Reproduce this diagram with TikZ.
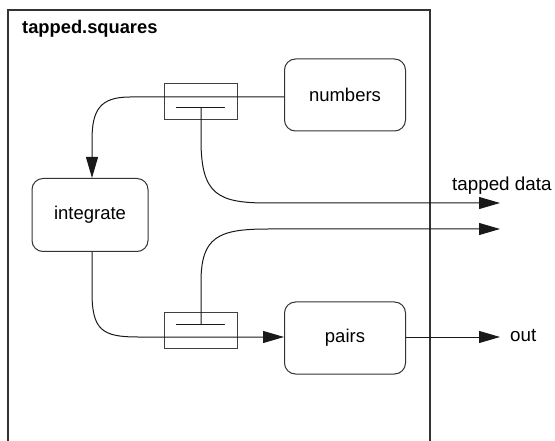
\documentclass[tikz,border=0pt]{standalone}
\usepackage{fontspec}
\setmainfont{Liberation Sans}
\usetikzlibrary{arrows.meta}
\begin{document}
\begin{tikzpicture}[x=1pt,y=-1pt,
  proc/.style={draw=black!80, line width=1pt, rounded corners=11pt, minimum width=121pt, minimum height=72pt, inner sep=0pt, font=\fontsize{18.5}{21}\selectfont},
  tapbox/.style={draw=black!75, line width=1pt, minimum width=73pt, minimum height=36pt, inner sep=0pt},
  wire/.style={draw=black!90, line width=1pt},
  flow/.style={wire, -{Triangle[length=21pt,width=12pt]}},
  lbl/.style={font=\fontsize{18.8}{21}\selectfont, inner sep=0pt}]
\useasboundingbox (0,0) rectangle (555,441);
% enclosing process frame, open at the bottom
\draw[black!80, line width=1.2pt] (8,441) -- (8,10) -- (430,10) -- (430,441);
\node[anchor=base west, font=\bfseries\fontsize{18.3}{21}\selectfont, inner sep=0pt] (title) at (22,34) {tapped.squares};

% processes
\node[proc] (numbers) at (345,95) {numbers};
\node[proc, minimum width=116pt, minimum height=73pt] (integrate) at (90,215) {integrate};
\node[proc] (pairs) at (345,338) {pairs};

% tap boxes
\node[tapbox] (tapA) at (200.5,101.5) {};
\node[tapbox] (tapB) at (200.5,330.5) {};
\draw[wire] (176,108) -- (225,108);
\draw[wire] (176,324) -- (225,324);
\coordinate (stemA) at (201,108);
\coordinate (stemB) at (201,324);

% end points outside the frame
\coordinate (tapOut1) at (500,203);
\coordinate (tapOut2) at (500,229);
\coordinate (outEnd) at (500,337);

% numbers -> integrate, through the first tap
\draw[flow] (numbers.west |- 0,97) -- (tapA.west |- 0,97) -- (130,97)
  .. controls (100,97) and (92,110) .. (92,140) -- (integrate.north -| 92,0);
% integrate -> pairs, through the second tap
\draw[flow] (integrate.south -| 92,0) -- (92,292)
  .. controls (92,330) and (102,337) .. (138,337) -- (pairs.west |- 0,337);
% tapped streams
\draw[flow] (stemA) -- (201,140) .. controls (201,195) and (218,203) .. (268,203) -- (tapOut1);
\draw[flow] (stemB) -- (201,282) .. controls (201,237) and (218,229) .. (268,229) -- (tapOut2);
% output
\draw[flow] (pairs.east |- 0,337) -- (outEnd);

\node[lbl, anchor=base west] (tapLbl) at (452,191) {tapped data};
\node[lbl, anchor=west] (outLbl) at (510,336) {out};
\end{tikzpicture}
\end{document}
